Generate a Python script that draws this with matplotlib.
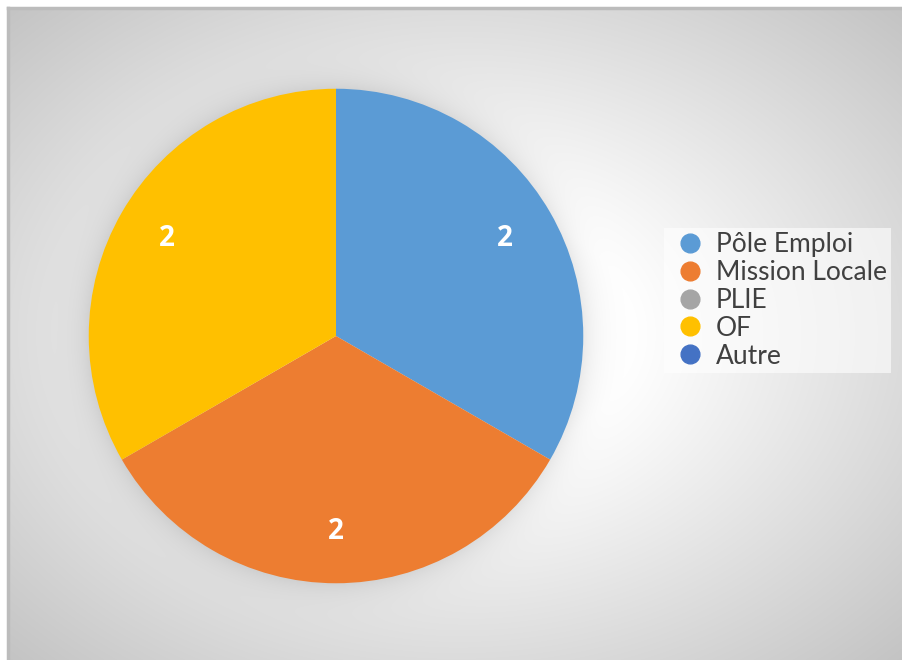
import matplotlib.pyplot as plt
import numpy as np
from matplotlib.lines import Line2D

# Data
categories = ['Pôle Emploi', 'Mission Locale', 'PLIE', 'OF', 'Autre']
values = [2, 2, 0, 2, 0]
colors = ['#5B9BD5', '#ED7D31', '#A5A5A5', '#FFC000', '#4472C4']

W, H = 902, 660
fig = plt.figure(figsize=(W / 100, H / 100), dpi=100)
fig.patch.set_facecolor('white')

# Chart area with a soft radial grey gradient
x0, y0 = 8, 8
bg = fig.add_axes([x0 / W, 0, (W - x0) / W, (H - y0) / H])
yy, xx = np.mgrid[y0:H, x0:W] + 0.5
cx, cy = (x0 + W) / 2, (y0 + H) / 2
r = np.sqrt(((xx - cx) / ((W - x0) / 2)) ** 2 + ((yy - cy) / ((H - y0) / 2)) ** 2)
shade = 1 - 0.23 * np.clip(r - 0.4, 0, None)
# glow around the pie
d = np.hypot(xx - 336, yy - 336)
shade -= 0.08 * np.exp(-np.clip(d - 248, 0, None) / 14)
bg.imshow(np.dstack([shade.clip(0, 1)] * 3), aspect='auto', interpolation='bilinear')
bg.set_xticks([])
bg.set_yticks([])
for side in ['right', 'bottom']:
    bg.spines[side].set_visible(False)
for side in ['top', 'left']:
    bg.spines[side].set_color('#bcbcbc')
    bg.spines[side].set_linewidth(2.5)

# Pie
ax = fig.add_axes([88 / W, (H - 584) / H, 496 / W, 496 / H])
total = sum(values)
wedges, texts, autotexts = ax.pie(
    values, colors=colors, startangle=90, counterclock=False,
    autopct=lambda p: '' if p == 0 else f'{p * total / 100:.0f}',
    pctdistance=0.79,
    textprops=dict(color='white', fontsize=20, fontweight='bold', family='Open Sans'))
ax.set_xlim(-1.003, 1.003)
ax.set_ylim(-1.003, 1.003)

# Legend
handles = [Line2D([], [], marker='o', linestyle='none', markersize=13.5,
                  markerfacecolor=c, markeredgecolor=c) for c in colors]
leg = fig.legend(handles, categories, loc='upper left',
                 bbox_to_anchor=(664 / W, 1 - 228 / H), borderaxespad=0,
                 prop=dict(family='Lato', size=19), labelcolor='#404040',
                 borderpad=0.15, handlelength=1.7, handletextpad=0.12,
                 labelspacing=0.11, frameon=True, fancybox=False)
leg.get_frame().set_facecolor('white')
leg.get_frame().set_alpha(0.6)
leg.get_frame().set_linewidth(0)

fig.savefig('out.png', dpi=100)
